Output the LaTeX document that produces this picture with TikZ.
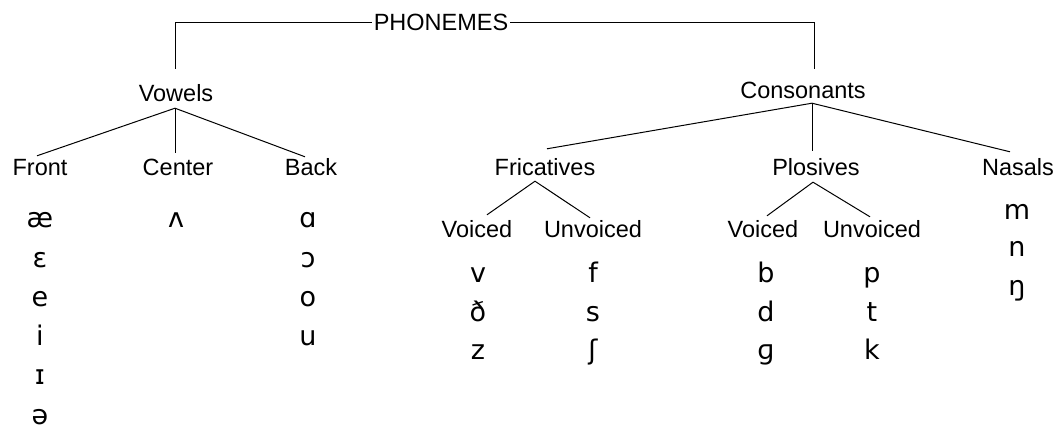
\documentclass[tikz,border=0pt]{standalone}
\usepackage{fontspec}
\setmainfont{Liberation Sans}
\newfontfamily\ipafont{DejaVu Sans}
\begin{document}
\begin{tikzpicture}[x=1pt,y=-1pt,
  lbl/.style={font=\fontsize{23.5}{28}\selectfont, inner sep=0pt,
              text height=17pt, text depth=5pt, anchor=base},
  sym/.style={font=\ipafont\fontsize{27}{30}\selectfont, inner sep=0pt, anchor=base},
  link/.style={line width=1pt, black}]
\useasboundingbox (0,0) rectangle (1060,430);

% category labels
\node[lbl, text depth=0pt, inner xsep=2pt] (ph) at (441,31) {PHONEMES};
\node[lbl] (vow)    at (176,102)   {Vowels};
\node[lbl] (con)    at (803,98.5)  {Consonants};
\node[lbl] (front)  at (40,175.5)  {Front};
\node[lbl] (center) at (178,175.5) {Center};
\node[lbl] (back)   at (311,175.5) {Back};
\node[lbl] (fric)   at (545,175.5) {Fricatives};
\node[lbl] (plos)   at (816,175.5) {Plosives};
\node[lbl] (nas)    at (1018,175.5){Nasals};
\node[lbl] (fv)     at (477,238)   {Voiced};
\node[lbl] (fu)     at (593,238)   {Unvoiced};
\node[lbl] (pv)     at (763,238)   {Voiced};
\node[lbl] (pu)     at (872,238)   {Unvoiced};

% junction points
\coordinate (vowj)  at ([xshift=-1pt,yshift=-1pt]vow.south);
\coordinate (centertop) at ([xshift=-3pt,yshift=5.5pt]center.north);
\coordinate (conj)  at ([xshift=9pt,yshift=0.5pt]con.south);
\coordinate (fricj) at ([xshift=-10pt,yshift=-0.5pt]fric.south);
\coordinate (plosj) at ([xshift=-3pt,yshift=-1.5pt]plos.south);

% top bracket
\draw[link] (ph.west) -| ([xshift=-1pt,yshift=16pt]vow.north);
\draw[link] (ph.east) -| ([xshift=11pt,yshift=12.5pt]con.north);

% vowel branches
\draw[link] ([xshift=-3pt,yshift=2.5pt]front.north) -- (vowj) -- ([xshift=-6pt,yshift=1.5pt]back.north);
\draw[link] (vowj) -- (centertop);

% consonant branches
\draw[link] ([xshift=2pt,yshift=9.5pt]fric.north) -- (conj) -- ([xshift=-8pt,yshift=6.5pt]nas.north);
\draw[link] (conj) -- ([xshift=-4pt,yshift=7.5pt]plos.north);
\draw[link] ([xshift=10pt,yshift=6pt]fv.north) -- (fricj) -- ([xshift=-3pt,yshift=3pt]fu.north);
\draw[link] ([xshift=4pt,yshift=5pt]pv.north) -- (plosj) -- ([xshift=-2pt,yshift=4pt]pu.north);

% front vowels
\node[sym] (s1) at (40,228)   {æ};
\node[sym] (s2) at (40,267.2) {ɛ};
\node[sym] (s3) at (40,306.4) {e};
\node[sym] (s4) at (40,345.6) {i};
\node[sym] (s5) at (40,384.8) {ɪ};
\node[sym] (s6) at (40,424)   {ə};
% center vowel
\node[sym] (s7) at (176,228)  {ʌ};
% back vowels
\node[sym] (s8)  at (308,228)   {ɑ};
\node[sym] (s9)  at (308,267.2) {ɔ};
\node[sym] (s10) at (308,306.4) {o};
\node[sym] (s11) at (308,345.6) {u};
% voiced fricatives
\node[sym] (s12) at (478,282.5) {v};
\node[sym] (s13) at (478,321)   {ð};
\node[sym] (s14) at (478,359.5) {z};
% unvoiced fricatives
\node[sym] (s15) at (593,282.5) {f};
\node[sym] (s16) at (593,321)   {s};
\node[sym] (s17) at (593,359.5) {ʃ};
% voiced plosives
\node[sym] (s18) at (766,282.5) {b};
\node[sym] (s19) at (766,321)   {d};
\node[sym] (s20) at (766,359.5) {ɡ};
% unvoiced plosives
\node[sym] (s21) at (872,282.5) {p};
\node[sym] (s22) at (872,321)   {t};
\node[sym] (s23) at (872,359.5) {k};
% nasals
\node[sym] (s24) at (1017,220) {m};
\node[sym] (s25) at (1017,257) {n};
\node[sym] (s26) at (1017,295) {ŋ};
\end{tikzpicture}
\end{document}
